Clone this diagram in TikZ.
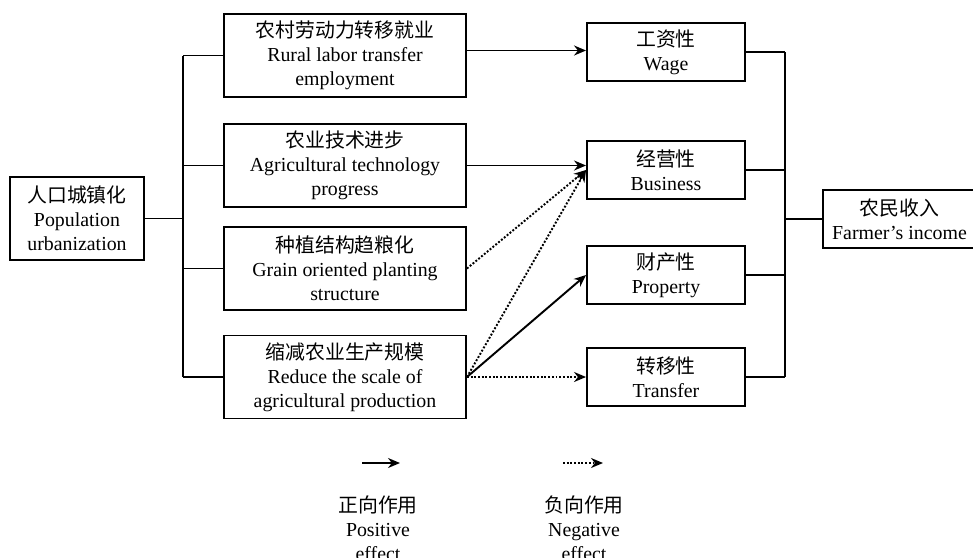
\documentclass[tikz,border=0pt]{standalone}
\usepackage{fontspec}
\setmainfont{Liberation Serif}
\newfontfamily\cjk{Noto Sans CJK SC}
\usetikzlibrary{arrows.meta, positioning}

\begin{document}
\begin{tikzpicture}[
    box/.style={draw, line width=1.1pt, align=center, inner sep=0pt, font=\fontsize{11.3pt}{13.7pt}\selectfont},
    srcbox/.style={box, minimum width=2.68cm, minimum height=1.66cm},
    factor/.style={box, minimum width=4.84cm, minimum height=1.66cm},
    income/.style={box, minimum width=3.16cm, minimum height=1.16cm},
    legend/.style={align=center, font=\fontsize{11.3pt}{13.7pt}\selectfont},
    link/.style={line width=1.1pt},
    posarrow/.style={line width=1.1pt, -{Stealth[length=2.4mm, width=2mm]}},
    negarrow/.style={posarrow, densely dotted}
]
\useasboundingbox (0,0) rectangle (19.46,-11.14);

% Source node
\node[srcbox] (urban) at (1.54,-4.37) {{\cjk 人口城镇化}\\Population\\urbanization};

% Middle factors
\node[factor] (labor) at (6.9,-1.11) {{\cjk 农村劳动力转移就业}\\Rural labor transfer\\employment};
\node[factor] (tech) at (6.9,-3.31) {{\cjk 农业技术进步}\\Agricultural technology\\progress};
\node[factor] (grain) at (6.9,-5.37) {{\cjk 种植结构趋粮化}\\Grain oriented planting\\structure};
\node[factor] (scale) at (6.9,-7.54) {{\cjk 缩减农业生产规模}\\Reduce the scale of\\agricultural production};

% Income components
\node[income] (wage) at (13.32,-1.04) {{\cjk 工资性}\\Wage};
\node[income] (business) at (13.32,-3.40) {{\cjk 经营性}\\Business};
\node[income] (property) at (13.32,-5.50) {{\cjk 财产性}\\Property};
\node[income] (transfer) at (13.32,-7.54) {{\cjk 转移性}\\Transfer};

% Total income
\node[income, minimum width=3.06cm] (farmer) at (17.99,-4.38) {{\cjk 农民收入}\\Farmer’s income};

% Bus lines
\coordinate (lbus) at (3.66,0);
\coordinate (rbus) at (15.7,0);
\draw[link] (urban.east) -- (urban.east -| lbus);
\draw[link] (labor.west -| lbus) -- (scale.west -| lbus);
\foreach \n in {labor,tech,grain,scale} {
    \draw[link] (\n.west) -- (\n.west -| lbus);
}
\draw[link] (wage.east -| rbus) -- (transfer.east -| rbus);
\foreach \n in {wage,business,property,transfer} {
    \draw[link] (\n.east) -- (\n.east -| rbus);
}
\draw[link] (rbus |- farmer.west) -- (farmer.west);

% Effects
\draw[posarrow] ([yshift=1mm]labor.east) -- ([yshift=1mm]labor.east -| wage.west);
\draw[posarrow] (tech.east) -- (tech.east -| business.west);
\draw[negarrow] (grain.east) -- (business.west);
\draw[negarrow] (scale.east) -- (business.west);
\draw[posarrow] (scale.east) -- (property.west);
\draw[negarrow] (scale.east) -- (transfer.west);

% Legend
\coordinate (pos0) at (7.24,-9.26);
\coordinate (pos1) at (8.0,-9.26);
\coordinate (neg0) at (11.26,-9.26);
\coordinate (neg1) at (12.06,-9.26);
\draw[posarrow] (pos0) -- (pos1);
\draw[negarrow] (neg0) -- (neg1);
\node[legend] (poslabel) at (7.56,-10.56) {{\cjk 正向作用}\\Positive\\effect};
\node[legend] (neglabel) at (11.68,-10.56) {{\cjk 负向作用}\\Negative\\effect};

\end{tikzpicture}
\end{document}
